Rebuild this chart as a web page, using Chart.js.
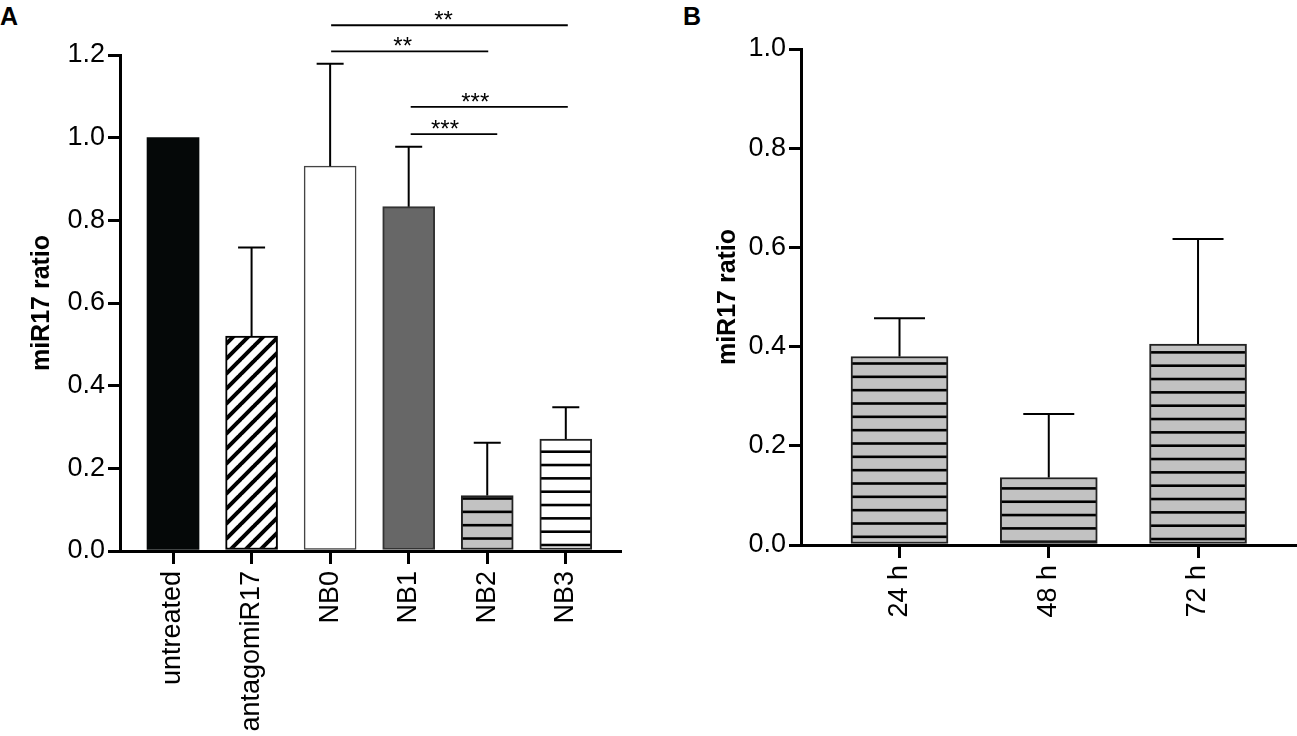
<!DOCTYPE html>
<html>
<head>
<meta charset="utf-8">
<script src="https://cdn.jsdelivr.net/npm/chart.js@4.4.1/dist/chart.umd.min.js"></script>
<style>
  html, body { margin: 0; padding: 0; background: #fff; }
  body { width: 1297px; height: 736px; position: relative; overflow: hidden; font-family: "Liberation Sans", Arial, sans-serif; }
  .panel { position: absolute; top: 0; }
  .letter { position: absolute; top: 4px; font: bold 25px/25px "Liberation Sans", Arial, sans-serif; color: #000; }
</style>
</head>
<body>
<div class="letter" style="left:0px;">A</div>
<div class="letter" style="left:683px;">B</div>
<div class="panel" style="left:0px;"><canvas id="chartA" width="650" height="736"></canvas></div>
<div class="panel" style="left:650px;"><canvas id="chartB" width="647" height="736"></canvas></div>
<script>
// ---------- DATA ----------
const categoriesA = ['untreated', 'antagomiR17', 'NB0', 'NB1', 'NB2', 'NB3'];
const valuesA = [1.0, 0.52, 0.931, 0.833, 0.134, 0.271];
const errorsA = [0, 0.214, 0.248, 0.145, 0.128, 0.077];
const yTicksA = [0.0, 0.2, 0.4, 0.6, 0.8, 1.0, 1.2];
const sigPairsA = [[2, 5], [2, 4], [3, 5], [3, 4]];
const sigLabelsA = ['**', '**', '***', '***'];

const categoriesB = ['24 h', '48 h', '72 h'];
const valuesB = [0.38, 0.136, 0.405];
const errorsB = [0.077, 0.128, 0.212];
const yTicksB = [0.0, 0.2, 0.4, 0.6, 0.8, 1.0];

const yTitle = 'miR17 ratio';

// ---------- STYLE HELPERS ----------
Chart.defaults.font.family = '"Liberation Sans", Arial, sans-serif';
Chart.defaults.color = '#000';

function hStripes(bg, phase) {
  const c = document.createElement('canvas');
  c.width = 8; c.height = 40;
  const g = c.getContext('2d');
  g.fillStyle = bg; g.fillRect(0, 0, 8, 40);
  g.fillStyle = '#000';
  const p = 40 / 3;
  for (let k = -1; k < 5; k++) {
    const yc = (phase % p) + k * p;
    g.fillRect(0, yc - 1.3, 8, 2.6);
  }
  return g.createPattern(c, 'repeat');
}
function diagStripes() {
  const s = 15;
  const c = document.createElement('canvas');
  c.width = s; c.height = s;
  const g = c.getContext('2d');
  g.fillStyle = '#fff'; g.fillRect(0, 0, s, s);
  g.strokeStyle = '#000'; g.lineWidth = 4;
  g.beginPath();
  for (const o of [-s, 0, s]) { g.moveTo(o - 1, s + 1); g.lineTo(o + s + 1, -1); }
  g.stroke();
  return g.createPattern(c, 'repeat');
}

const errorBarPlugin = {
  id: 'errbars',
  afterDatasetsDraw(chart, args, opts) {
    const { ctx } = chart;
    const y = chart.scales.y;
    const meta = chart.getDatasetMeta(0);
    const ds = chart.data.datasets[0];
    ctx.save();
    ctx.strokeStyle = '#000';
    ctx.lineWidth = opts.width;
    meta.data.forEach((bar, i) => {
      const sd = opts.errors[i];
      if (!sd) return;
      const v = ds.data[i].y;
      const yb = y.getPixelForValue(v);
      const yt = y.getPixelForValue(v + sd);
      ctx.beginPath();
      ctx.moveTo(bar.x, yb); ctx.lineTo(bar.x, yt);
      ctx.moveTo(bar.x - opts.cap / 2, yt); ctx.lineTo(bar.x + opts.cap / 2, yt);
      ctx.stroke();
    });
    ctx.restore();
  }
};

const bracketPlugin = {
  id: 'brackets',
  afterDraw(chart, args, opts) {
    const { ctx } = chart;
    const x = chart.scales.x, y = chart.scales.y;
    ctx.save();
    ctx.strokeStyle = '#000';
    ctx.fillStyle = '#000';
    ctx.lineWidth = 1.8;
    ctx.font = '24px "Liberation Sans", Arial, sans-serif';
    ctx.textAlign = 'center';
    ctx.textBaseline = 'alphabetic';
    opts.pairs.forEach((pair, i) => {
      const st = opts.layout[i];
      const x1 = x.getPixelForValue(pair[0]) + st.dx1;
      const x2 = x.getPixelForValue(pair[1]) + st.dx2;
      const yy = y.getPixelForValue(st.level);
      ctx.beginPath(); ctx.moveTo(x1, yy); ctx.lineTo(x2, yy); ctx.stroke();
      ctx.fillText(opts.labels[i], (x1 + x2) / 2 + st.tdx, yy + 3);
    });
    ctx.restore();
  }
};

function axisY(max, ticks, width, titlePad) {
  return {
    type: 'linear', min: 0, max: max,
    afterBuildTicks: s => { s.ticks = ticks.map(v => ({ value: v })); },
    afterFit: s => { s.width = width; },
    ticks: { callback: v => Number(v).toFixed(1), font: { size: 27 }, color: '#000', padding: 3 },
    grid: { display: true, drawOnChartArea: false, drawTicks: true, tickLength: 12, lineWidth: 3, color: '#000' },
    border: { display: true, width: 3, color: '#000' },
    title: { display: true, text: yTitle, font: { size: 25, weight: 'bold' }, color: '#000', padding: { top: titlePad, bottom: 0 } }
  };
}
function axisX(cats, min, max, height) {
  return {
    type: 'linear', min: min, max: max, offset: false,
    afterBuildTicks: s => { s.ticks = cats.map((_, i) => ({ value: i })); },
    afterFit: s => { s.height = height; },
    ticks: { callback: v => cats[v], font: { size: 27 }, color: '#000', minRotation: 90, maxRotation: 90, padding: 7, autoSkip: false },
    grid: { display: true, offset: false, drawOnChartArea: false, drawTicks: true, tickLength: 13, lineWidth: 3, color: '#000' },
    border: { display: true, width: 3, color: '#000' }
  };
}

// ---------- CHART A ----------
const ctxA = document.getElementById('chartA').getContext('2d');
new Chart(ctxA, {
  type: 'bar',
  data: {
    datasets: [{
      data: valuesA.map((v, i) => ({ x: i, y: v })),
      backgroundColor: ['#050808', diagStripes(), '#ffffff', '#676767', hStripes('#c2c2c2', 5.2), hStripes('#ffffff', 11.7)],
      borderColor: ['#050808', '#000', '#444', '#333', '#222', '#222'],
      borderWidth: [0, 2, 1.5, 2, 2, 2],
      borderSkipped: false,
      barThickness: 52
    }]
  },
  options: {
    responsive: false,
    animation: false,
    layout: { padding: { top: 55, right: 30, left: 0, bottom: 0 } },
    plugins: {
      legend: { display: false },
      tooltip: { enabled: false },
      errbars: { errors: errorsA, cap: 27, width: 2 },
      brackets: {
        pairs: sigPairsA, labels: sigLabelsA,
        layout: [
          { level: 1.272, dx1: 1, dx2: 2, tdx: -6 },
          { level: 1.209, dx1: 1, dx2: 1, tdx: -7 },
          { level: 1.0745, dx1: 2, dx2: 2, tdx: -14 },
          { level: 1.0085, dx1: 2, dx2: 10, tdx: -9 }
        ]
      }
    },
    scales: {
      x: axisX(categoriesA, -0.675, 5.69, 185),
      y: axisY(1.2, yTicksA, 120, 27)
    }
  },
  plugins: [errorBarPlugin, bracketPlugin]
});

// ---------- CHART B ----------
const ctxB = document.getElementById('chartB').getContext('2d');
new Chart(ctxB, {
  type: 'bar',
  data: {
    datasets: [{
      data: valuesB.map((v, i) => ({ x: i, y: v })),
      backgroundColor: [hStripes('#c2c2c2', 3.5), hStripes('#c2c2c2', 8.4), hStripes('#c2c2c2', 5.7)],
      borderColor: '#222',
      borderWidth: 2,
      borderSkipped: false,
      barThickness: 97
    }]
  },
  options: {
    responsive: false,
    animation: false,
    layout: { padding: { top: 49, right: 0, left: 0, bottom: 0 } },
    plugins: {
      legend: { display: false },
      tooltip: { enabled: false },
      errbars: { errors: errorsB, cap: 51, width: 2 },
      brackets: { pairs: [], labels: [], layout: [] }
    },
    scales: {
      x: axisX(categoriesB, -0.66, 2.663, 191),
      y: axisY(1.0, yTicksB, 151, 63)
    }
  },
  plugins: [errorBarPlugin]
});
</script>
</body>
</html>
